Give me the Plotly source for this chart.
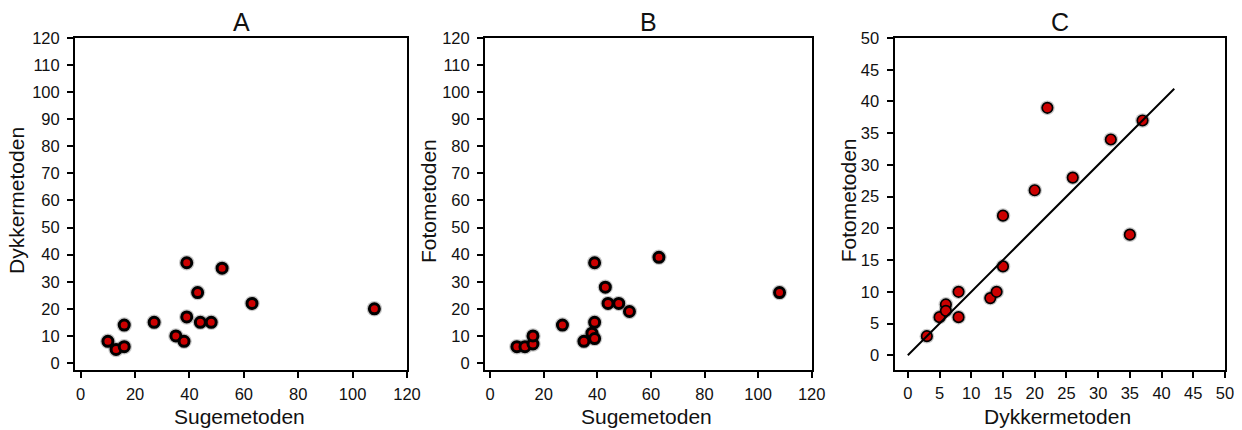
import plotly.graph_objects as go

# %% data
# A: Sugemetoden vs Dykkermetoden
suge_a = [10, 13, 16, 16, 27, 35, 38, 39, 39, 43, 44, 48, 52, 63, 108]
dykker_a = [8, 5, 6, 14, 15, 10, 8, 17, 37, 26, 15, 15, 35, 22, 20]

# B: Sugemetoden vs Fotometoden
suge_b = [10, 13, 16, 16, 27, 35, 38, 39, 39, 39, 43, 44, 48, 52, 63, 108]
foto_b = [6, 6, 7, 10, 14, 8, 11, 9, 15, 37, 28, 22, 22, 19, 39, 26]

# C: Dykkermetoden vs Fotometoden + line
dykker_c = [3, 5, 6, 6, 8, 8, 13, 14, 15, 15, 20, 22, 26, 32, 35, 37]
foto_c = [3, 6, 8, 7, 10, 6, 9, 10, 14, 22, 26, 39, 28, 34, 19, 37]
line_x = [0, 42]
line_y = [0, 42]

panel_titles = ['A', 'B', 'C']
x_titles = ['Sugemetoden', 'Sugemetoden', 'Dykkermetoden']
y_titles = ['Dykkermetoden', 'Fotometoden', 'Fotometoden']

# %% style
W, H = 1242, 430
font = 'Liberation Sans, Arial, sans-serif'
red = '#cc0000'
txt = '#111111'

def px_x(p):
    return p / W

def px_y(p):
    return 1 - p / H

fig = go.Figure()

def dots(x, y, xa, ya, size, lw):
    # soft grey halo then the red dot with black rim
    fig.add_trace(go.Scatter(x=x, y=y, xaxis=xa, yaxis=ya, mode='markers',
                             marker=dict(size=size + lw + 2.5, color='rgba(0,0,0,0.22)'),
                             hoverinfo='skip'))
    fig.add_trace(go.Scatter(x=x, y=y, xaxis=xa, yaxis=ya, mode='markers',
                             marker=dict(size=size, color=red,
                                         line=dict(color='black', width=lw))))

dots(suge_a, dykker_a, 'x', 'y', 10, 3)
dots(suge_b, foto_b, 'x2', 'y2', 10, 3)
dots(dykker_c, foto_c, 'x3', 'y3', 10.5, 1.7)
fig.add_trace(go.Scatter(x=line_x, y=line_y, xaxis='x3', yaxis='y3', mode='lines',
                         line=dict(color='black', width=2)))

axis_common = dict(showgrid=False, zeroline=False, showline=True, linecolor='black',
                   linewidth=2, mirror=True, ticks='outside', ticklen=6, tickwidth=1.5,
                   tickcolor='black', automargin=False,
                   tickfont=dict(family=font, size=16.5, color=txt))

# panel frames in pixel positions
frames = [
    dict(l=75, r=407, t=38, b=370, xr=[-2.1, 120], yr=[-2.6, 120], xd=20, yd=10),
    dict(l=485, r=811.7, t=38, b=370, xr=[-1.9, 120], yr=[-2.6, 120], xd=20, yd=10),
    dict(l=894.5, r=1225, t=38, b=369.5, xr=[-2.1, 50], yr=[-2.25, 50], xd=5, yd=5),
]

lay = {}
ann = []
for i, f in enumerate(frames):
    sfx = '' if i == 0 else str(i + 1)
    lay['xaxis' + sfx] = dict(axis_common, domain=[px_x(f['l']), px_x(f['r'])],
                              range=f['xr'], tick0=0, dtick=f['xd'],
                              anchor='y' + sfx, ticklabelstandoff=2)
    lay['yaxis' + sfx] = dict(axis_common, domain=[px_y(f['b']), px_y(f['t'])],
                              range=f['yr'], tick0=0, dtick=f['yd'],
                              anchor='x' + sfx, ticklabelstandoff=4)
    cx = (f['l'] + f['r']) / 2
    cy = (f['t'] + f['b']) / 2
    ann.append(dict(text=panel_titles[i], x=px_x(cx), y=px_y(22.5), xref='paper', yref='paper',
                    showarrow=False, xanchor='center', yanchor='middle',
                    font=dict(family=font, size=25, color=txt)))
    ann.append(dict(text=x_titles[i], x=px_x(cx - 2), y=px_y(416), xref='paper', yref='paper',
                    showarrow=False, xanchor='center', yanchor='middle',
                    font=dict(family=font, size=21, color=txt)))
    yoff = [59, 57, 46][i]
    ann.append(dict(text=y_titles[i], x=px_x(f['l'] - yoff), y=px_y(cy - 3), xref='paper',
                    yref='paper', showarrow=False, xanchor='center', yanchor='middle',
                    textangle=-90, font=dict(family=font, size=21, color=txt)))

fig.update_layout(width=W, height=H, margin=dict(l=0, r=0, t=0, b=0),
                  paper_bgcolor='white', plot_bgcolor='white', showlegend=False,
                  annotations=ann, **lay)

# page body has a default 8px margin, drop it so the figure fills the window
fig.write_html('out.html', config={'displayModeBar': False},
               post_script="document.body.style.margin='0';document.body.style.overflow='hidden';")
